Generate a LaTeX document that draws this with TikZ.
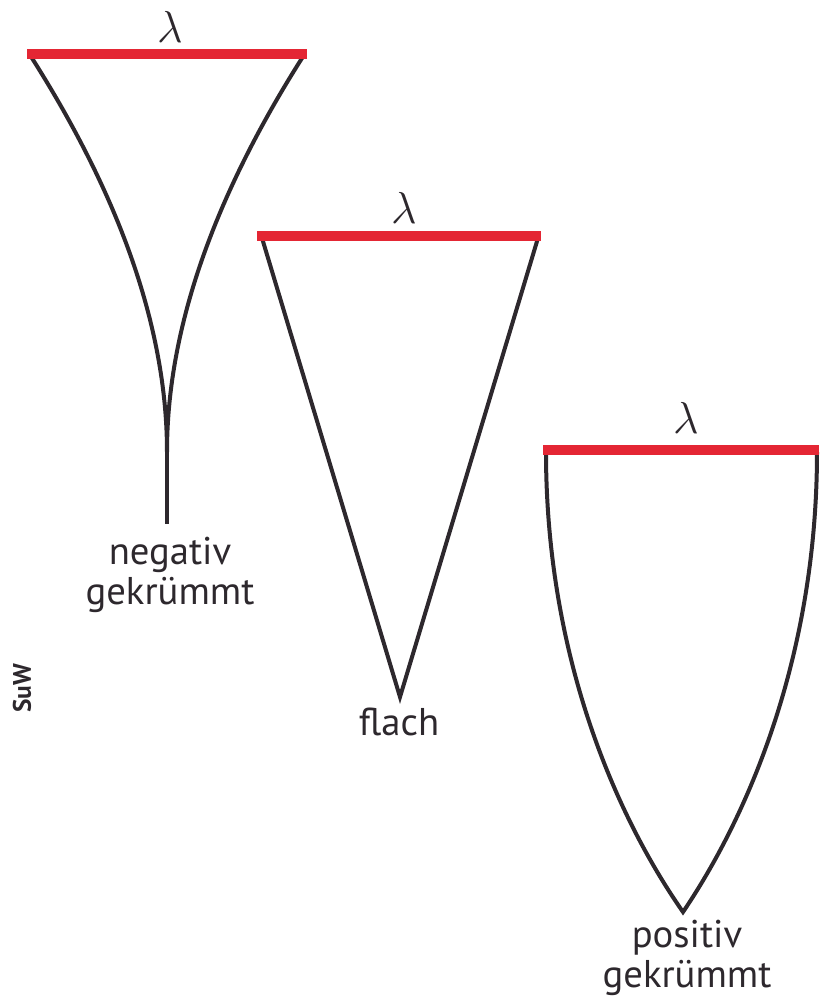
\documentclass[tikz,border=0pt]{standalone}
\usepackage{fontspec}
\setmainfont{PT Sans}
\definecolor{barred}{RGB}{228,38,52}
\definecolor{ink}{RGB}{45,40,45}
\begin{document}
\begin{tikzpicture}[x=0.75pt,y=-0.75pt,
  curve/.style={draw=ink,line width=3pt,line join=miter},
  bar/.style={draw=barred,line width=6.9pt},
  lam/.style={anchor=base,inner sep=0pt,text=ink},
  lbl/.style={anchor=north,inner sep=0pt,align=center,font=\fontsize{29}{30}\selectfont,text=ink},
]
\newcommand{\biglam}{\scalebox{1.35}{\fontsize{24.88}{25}\selectfont$\lambda$}}
\useasboundingbox (0,0) rectangle (819,1008);
% negative
\coordinate (nL) at (30,55);
\coordinate (nR) at (304,55);
\coordinate (nC) at (167,452);
\coordinate (nS) at (167,524);
\draw[curve] (nL) .. controls (95,157) and (167,300) .. (nC)
             .. controls (167,300) and (239,157) .. (nR);
\draw[curve] (nC) -- (nS);
\draw[bar] (27,54) coordinate (nb1) -- (307,54) coordinate (nb2);
\node[lam] (lam1) at (170,42) {\biglam};
\node[lbl] (negl) at (170,537) {negativ\\gekrümmt};
% flat
\coordinate (fL) at (262,238);
\coordinate (fR) at (538,238);
\coordinate (fA) at (400,697);
\draw[curve] (fL) -- (fA) -- (fR);
\draw[bar] (257,236) coordinate (fb1) -- (541,236) coordinate (fb2);
\node[lam] (lam2) at (404,223) {\biglam};
\node[lbl] (flat) at (399,708) {flach};
% positive
\coordinate (pL) at (546,452);
\coordinate (pR) at (817,452);
\coordinate (pA) at (683,912);
\draw[curve] (pL) .. controls (546,650) and (612,810) .. (pA)
             .. controls (752,810) and (817,650) .. (pR);
\draw[bar] (543,450) coordinate (pb1) -- (819,450) coordinate (pb2);
\node[lam] (lam3) at (686,433) {\biglam};
\node[lbl] (posl) at (687,920) {positiv\\gekrümmt};
% credit
\node[rotate=90,inner sep=0pt,text=ink,font=\bfseries\fontsize{19}{19}\selectfont] (suw) at (22,688) {SuW};
\end{tikzpicture}
\end{document}
